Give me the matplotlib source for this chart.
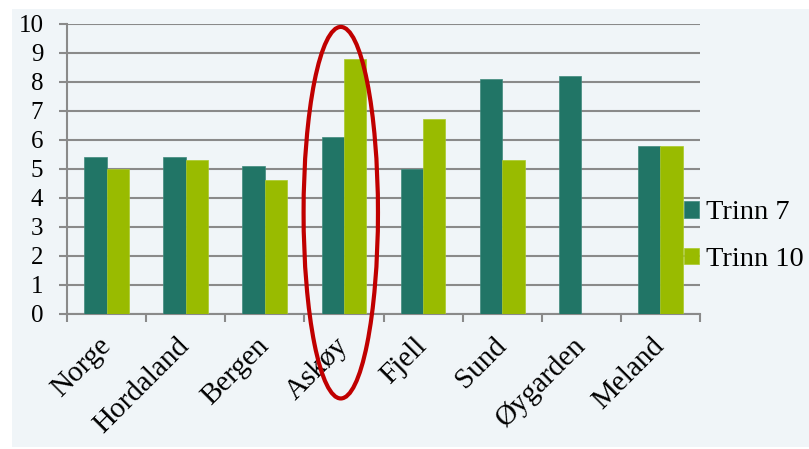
import numpy as np
import matplotlib.pyplot as plt
from matplotlib.patches import Ellipse, Rectangle

# data
steder = ["Norge", "Hordaland", "Bergen", "Askøy", "Fjell", "Sund", "Øygarden", "Meland"]
trinn7 = [5.4, 5.4, 5.1, 6.1, 5.0, 8.1, 8.2, 5.8]
trinn10 = [5.0, 5.3, 4.6, 8.8, 6.7, 5.3, np.nan, 5.8]
y_ticks = list(range(0, 11))

teal = "#217566"
green = "#99bb00"
grid_col = "#8a8a8a"
bg = "#f0f5f8"

plt.rcParams['font.family'] = ['Liberation Serif', 'DejaVu Serif']

fig = plt.figure(figsize=(8.09, 4.49), dpi=100)
fig.patches.append(Rectangle((12 / 809, 0.005), 1 - 12 / 809, 1 - 9 / 449 - 0.005,
                             transform=fig.transFigure, facecolor=bg, edgecolor="none", zorder=-5))

ax = fig.add_axes([0.0828, 0.3007, 0.7825, 0.6465])
ax.patch.set_visible(False)

x = np.arange(len(steder))
w = 0.283
ax.bar(x - w / 2, trinn7, w, color=teal, edgecolor="#3f8a7d", linewidth=0.5, label="Trinn 7", zorder=3)
ax.bar(x + w / 2, trinn10, w, color=green, edgecolor="#aac92a", linewidth=0.5, label="Trinn 10", zorder=3)

ax.set_xlim(-0.5, len(steder) - 0.5)
ax.set_ylim(0, 10)
ax.set_yticks(y_ticks)
ax.set_yticklabels([str(v) for v in y_ticks], fontsize=18)
ax.yaxis.grid(True, color=grid_col, linewidth=1.5, zorder=1)
ax.set_axisbelow(True)

# category ticks sit on the borders between groups
ax.set_xticks(np.arange(len(steder) + 1) - 0.5, minor=False)
ax.set_xticklabels([])
ax.set_xticks(x, minor=True)
ax.set_xticklabels(steder, minor=True, rotation=45, ha="right", va="center",
                   rotation_mode="anchor", fontsize=21)
ax.tick_params(axis="x", which="minor", length=0, pad=20)
ax.tick_params(axis="x", which="major", length=6, width=1.5, color=grid_col)
ax.tick_params(axis="y", length=6, width=1.5, color=grid_col, pad=11)

for s in ["top", "right"]:
    ax.spines[s].set_visible(False)
for s in ["left", "bottom"]:
    ax.spines[s].set_color(grid_col)
    ax.spines[s].set_linewidth(1.5)

# red ring around Askøy
ring = Ellipse((2.96, 3.49), 0.94, 12.8, fill=False, edgecolor="#c00000",
               linewidth=3, clip_on=False, zorder=5)
ax.add_patch(ring)

fig.legend(loc="center left", bbox_to_anchor=(0.846, 0.474), frameon=False,
           fontsize=20.5, handlelength=0.5, handleheight=0.5, handletextpad=0.25,
           labelspacing=0.75, borderpad=0, borderaxespad=0)

fig.savefig("out.png", dpi=100, facecolor="white")
